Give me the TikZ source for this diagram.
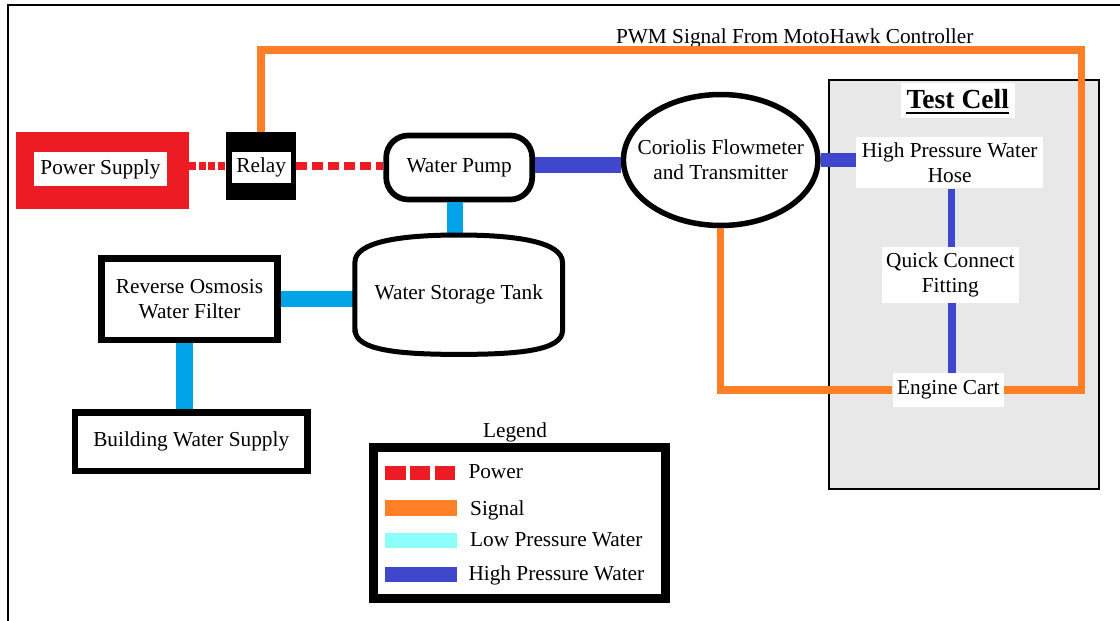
\documentclass[tikz,border=0pt]{standalone}
\usepackage{fontspec}
\setmainfont{Liberation Serif}
\usetikzlibrary{shapes.geometric}
\definecolor{pwrred}{HTML}{ED1C24}
\definecolor{sigorange}{HTML}{FF7F27}
\definecolor{lpblue}{HTML}{00A2E8}
\definecolor{hpblue}{HTML}{3F48CC}
\definecolor{lpcyan}{HTML}{8CFFFA}
\definecolor{cellgray}{HTML}{E8E8E8}
\begin{document}
\begin{tikzpicture}[x=1pt, y=-1pt,
  every node/.style={font=\fontsize{21.3}{25}\selectfont, inner sep=0pt, text=black},
  tagbox/.style={fill=white, align=center},
  block/.style={draw=black, fill=white, line width=6.7pt, align=center},
  pwrline/.style={draw=pwrred, line width=7.3pt},
  sigline/.style={draw=sigorange, line width=7.5pt},
  lowline/.style={draw=lpblue, line width=16.5pt},
  highline/.style={draw=hpblue, line width=#1},
  swatch/.style={minimum width=71.7pt, minimum height=15.5pt, fill=#1},
  legtext/.style={anchor=base west}
]
\useasboundingbox (0,0) rectangle (1120,621);

% page frame (only top and left edges fall inside the sheet)
\draw[line width=2.2pt] (7.8,621) -- (7.8,5) -- (1120,5);

% power supply and relay
\node[fill=pwrred, minimum width=173pt, minimum height=77pt] (psbox) at (102.5,170.5) {};
\node[tagbox, minimum width=132.4pt, minimum height=33.4pt] (ps) at (100.5,169) {Power Supply};
\node[fill=black, minimum width=69.7pt, minimum height=68.6pt] (relaybox) at (261.2,166) {};
\node[tagbox, minimum width=59pt, minimum height=30.7pt] (relay) at (261.2,167.7) {Relay};

% pump, flowmeter, tank
\node[draw=black, fill=white, line width=5.7pt, rounded corners=22pt,
      minimum width=146pt, minimum height=64pt] (pump) at (459.2,167.5) {Water Pump};
\node[ellipse, draw=black, fill=white, line width=5.5pt,
      minimum width=194.5pt, minimum height=131pt] (cor) at (720.7,160) {};
\node[align=center] (cortext) at (cor.center) {Coriolis Flowmeter\\and Transmitter};
\node[minimum width=207.3pt, minimum height=119pt] (tank) at (458.8,294.7) {Water Storage Tank};

% filter and building supply
\node[block, minimum width=175.7pt, minimum height=81.6pt] (filter) at (189.5,299.2) {Reverse Osmosis\\Water Filter};
\node[block, minimum width=232.3pt, minimum height=58.6pt] (building) at (191.2,441.7) {Building Water Supply};

% test cell
\node[draw=black, fill=cellgray, line width=2pt, minimum width=269.7pt, minimum height=409pt] (cell) at (964.2,284.5) {};
\node[fill=white, minimum width=114.3pt, minimum height=35pt] (titlepad) at (957.8,100.8) {};
\node[anchor=base, font=\fontsize{27.6}{30}\selectfont\bfseries] (title) at (957.8,108.3) {Test Cell};
\draw[line width=2pt] ([yshift=-5pt]title.base west) -- ([yshift=-5pt]title.base east);
\node[tagbox, minimum width=187.3pt, minimum height=51pt] (hose) at (949.7,162.8) {High Pressure Water\\Hose};
\node[tagbox, minimum width=137.3pt, minimum height=55.4pt] (qc) at (950.3,275) {Quick Connect\\Fitting};
\node[tagbox, minimum width=111.3pt, minimum height=33.4pt] (cart) at (948.3,390) {Engine Cart};

\node[anchor=base] (pwm) at (794.7,43.3) {PWM Signal From MotoHawk Controller};

% power lines
\draw[pwrline, dash pattern=on 7pt off 2.5pt] (relaybox.west -| psbox.east) -- (relaybox.west);
\draw[pwrline, dash pattern=on 11pt off 5pt] (relaybox.east) -- (relaybox.east -| pump.west);

% signal loop
\draw[sigline] (relaybox.north) |- (1081.5,50) |- (cart.east);
\draw[sigline] (cart.west) -| (cor.south);

% low pressure water
\coordinate (p1) at ([xshift=-4pt]pump.south);
\draw[lowline] (p1) -- (p1 |- tank.north);
\draw[lowline] (filter.east) -- (filter.east -| tank.west);
\coordinate (f1) at ([xshift=-5pt]filter.south);
\draw[lowline] (f1) -- (f1 |- building.north);

% high pressure water
\draw[highline=16.7pt] (pump.east |- 0,165) -- (cor.west |- 0,165);
\draw[highline=14pt] (cor.east) -- (cor.east -| hose.west);
\coordinate (h1) at ([xshift=2pt]hose.south);
\draw[highline=7.5pt] (h1) -- (h1 |- qc.north);
\coordinate (q1) at ([xshift=1.4pt]qc.south);
\draw[highline=8pt] (q1) -- (q1 |- cart.north);

% storage tank outline
\draw[line width=5pt] (tank.west) ++(0,35.5) -- ++(0,-68)
  .. controls +(0,-20) and +(-60,0) .. (tank.north)
  .. controls +(60,0) and +(0,-20) .. ++(103.7,27.5)
  -- ++(0,68)
  .. controls +(0,20) and +(60,0) .. (tank.south)
  .. controls +(-60,0) and +(0,20) .. ++(-103.6,-24.2) -- cycle;

% legend
\node[anchor=base] (legtitle) at (515,437.3) {Legend};
\node[draw=black, line width=8.7pt, minimum width=292pt, minimum height=150.6pt] (legend) at (519.7,523) {};
\draw[pwrred, line width=14.3pt, dash pattern=on 20.5pt off 4.3pt] (385,472.8) -- (456.7,472.8);
\node[swatch=sigorange] (swsig) at (420.8,508) {};
\node[swatch=lpcyan] (swlow) at (420.8,540.5) {};
\node[swatch=hpblue] (swhigh) at (420.8,574.5) {};
\node[legtext] (tpwr) at (468.3,478.3) {Power};
\node[legtext] (tsig) at (470,515) {Signal};
\node[legtext] (tlow) at (470,546.7) {Low Pressure Water};
\node[legtext] (thigh) at (468.3,580.7) {High Pressure Water};
\end{tikzpicture}
\end{document}
